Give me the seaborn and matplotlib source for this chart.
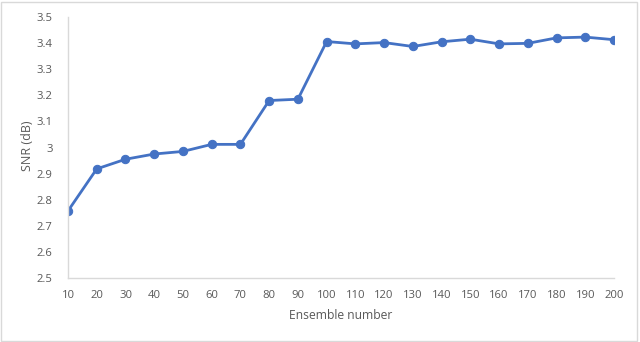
import pandas as pd
import matplotlib
matplotlib.use("Agg")
import matplotlib.pyplot as plt
import seaborn as sns
from matplotlib.patches import Rectangle

# Data
ensemble = [10, 20, 30, 40, 50, 60, 70, 80, 90, 100,
            110, 120, 130, 140, 150, 160, 170, 180, 190, 200]
snr_db = [2.757, 2.918, 2.955, 2.975, 2.985, 3.012, 3.012, 3.18, 3.185, 3.406,
          3.397, 3.402, 3.387, 3.405, 3.415, 3.397, 3.399, 3.420, 3.423, 3.413]
y_ticks = [2.5, 2.6, 2.7, 2.8, 2.9, 3.0, 3.1, 3.2, 3.3, 3.4, 3.5]
y_tick_labels = ['2.5', '2.6', '2.7', '2.8', '2.9', '3', '3.1', '3.2', '3.3', '3.4', '3.5']

df = pd.DataFrame({'Ensemble number': ensemble, 'SNR (dB)': snr_db})

sns.set_theme(style="white")
plt.rcParams['font.family'] = ['Open Sans', 'DejaVu Sans']

fig = plt.figure(figsize=(6.4, 3.42), dpi=100)
ax = fig.add_axes([68 / 640, 1 - 278 / 342, (614 - 68) / 640, (278 - 17) / 342])

sns.lineplot(data=df, x='Ensemble number', y='SNR (dB)', marker='o',
             color='#4472C4', linewidth=2.0, markersize=6,
             markeredgecolor='#4472C4', ax=ax)

ax.set_xlim(10, 200)
ax.set_ylim(2.5, 3.5)
ax.set_xticks(ensemble)
ax.set_yticks(y_ticks)
ax.set_yticklabels(y_tick_labels)
ax.tick_params(axis='both', length=0, labelsize=8.1, labelcolor='#595959')
ax.tick_params(axis='x', pad=9)
ax.tick_params(axis='y', pad=11)

for side in ['top', 'right']:
    ax.spines[side].set_visible(False)
for side in ['left', 'bottom']:
    ax.spines[side].set_color('#D9D9D9')
    ax.spines[side].set_linewidth(1.0)

ax.set_xlabel('Ensemble number', fontsize=8.7, color='#595959')
ax.set_ylabel('SNR (dB)', fontsize=9.0, color='#595959')
ax.xaxis.set_label_coords(0.5, -0.118)
ax.yaxis.set_label_coords(-0.062, 0.505)

# light chart border
fig.patches.append(Rectangle((0.002, 0.003), 0.994, 0.992, transform=fig.transFigure,
                             fill=False, edgecolor='#D9D9D9', linewidth=1.0))

fig.savefig('out.png', dpi=100)
